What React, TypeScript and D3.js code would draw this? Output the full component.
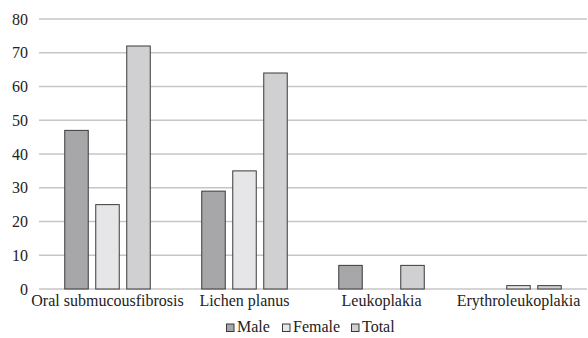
import React from "react";
import * as d3 from "d3";

const categories = ["Oral submucousfibrosis", "Lichen planus", "Leukoplakia", "Erythroleukoplakia"];
const seriesNames = ["Male", "Female", "Total"];
const male = [47, 29, 7, 0];
const female = [25, 35, 0, 1];
const total = [72, 64, 7, 1];
const yTicks = [0, 10, 20, 30, 40, 50, 60, 70, 80];

const colors = ["#a7a7a9", "#e6e6e8", "#d0d0d2"];

export default function App() {
  const W = 588, H = 338;
  const left = 39, right = 587, top = 19, bottom = 289;
  const x = d3.scaleBand<string>().domain(categories).range([left, right]);
  const x1 = d3.scaleBand<string>().domain(seriesNames).range([-(23.5 * 1.5 + 7.5), 23.5 * 1.5 + 7.5]).paddingInner(7.5 / 31).paddingOuter(0);
  const y = d3.scaleLinear().domain([0, 80]).range([bottom, top]);
  const data = [male, female, total];
  const font = "Liberation Serif";
  const legendItems = [
    { name: "Male", x: 226 },
    { name: "Female", x: 282 },
    { name: "Total", x: 351 },
  ];
  return (
    <svg width={W} height={H} style={{ position: "absolute", left: 0, top: 0, background: "#fff" }}>
      {yTicks.map((t) => (
        <g key={t}>
          <line x1={left} x2={right} y1={y(t)} y2={y(t)} stroke="#c6c6c6" strokeWidth={1.3} />
          <text x={28} y={y(t)} dy="0.35em" textAnchor="end" fontFamily={font} fontSize={16} fill="#222">{t}</text>
        </g>
      ))}
      {categories.map((c, i) => (
        <g key={c}>
          {seriesNames.map((s, j) => {
            const v = data[j][i];
            if (v <= 0) return null;
            const cx = (x(c) as number) + x.bandwidth() / 2;
            const bx = cx + (x1(s) as number);
            return (
              <rect key={s} x={bx} y={y(v)} width={x1.bandwidth()} height={y(0) - y(v)}
                fill={colors[j]} stroke="#3a3a3a" strokeWidth={1} />
            );
          })}
          <text x={(x(c) as number) + x.bandwidth() / 2} y={305.5} textAnchor="middle" fontFamily={font} fontSize={16} fill="#222">{c}</text>
        </g>
      ))}
      {legendItems.map((l, j) => (
        <g key={l.name}>
          <rect x={l.x + 0.5} y={324} width={7.5} height={7.5} fill={colors[j]} stroke="#3a3a3a" strokeWidth={1} />
          <text x={l.x + 11} y={331.5} fontFamily={font} fontSize={16} fill="#222">{l.name}</text>
        </g>
      ))}
    </svg>
  );
}
